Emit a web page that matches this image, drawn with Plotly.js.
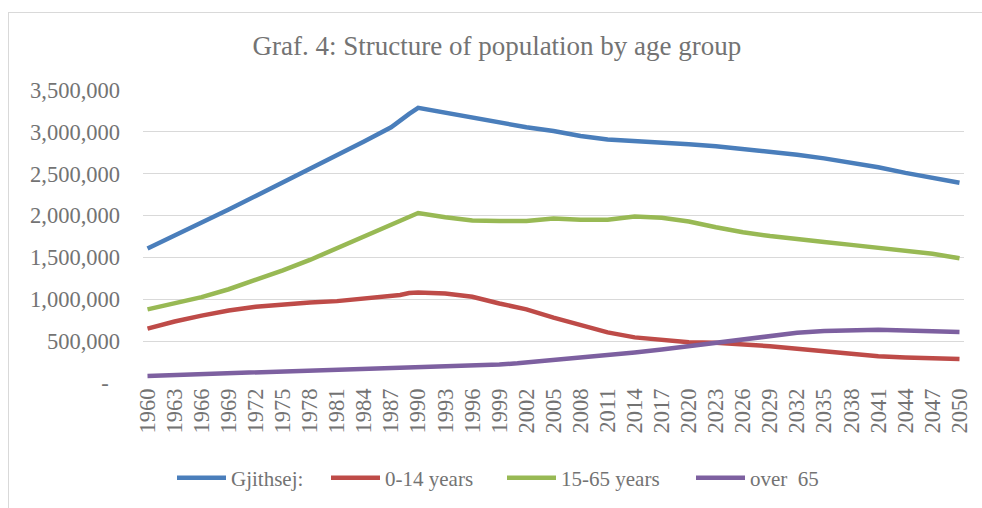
<!DOCTYPE html>
<html>
<head>
<meta charset="utf-8">
<script src="https://cdn.plot.ly/plotly-3.0.1.min.js"></script>
<style>
  html, body { margin: 0; padding: 0; background: #ffffff; }
  #wrap { position: relative; width: 982px; height: 508px; overflow: hidden; }
  #chart { position: absolute; left: 0; top: 0; width: 982px; height: 508px; }
  #frame { position: absolute; left: 8px; top: 12px; width: 1200px; height: 800px;
           border-left: 1px solid #d9d9d9; border-top: 1px solid #d9d9d9; pointer-events: none; }
</style>
</head>
<body>
<div id="wrap">
  <div id="chart"></div>
  <div id="frame"></div>
</div>
<script>
const years = [1960, 1963, 1966, 1969, 1972, 1975, 1978, 1981, 1984, 1987, 1988, 1989, 1990,
               1993, 1996, 1999, 2001, 2002, 2005, 2008, 2011, 2014, 2017, 2020, 2023,
               2026, 2029, 2032, 2035, 2038, 2041, 2044, 2047, 2050];

const total = [1607000, 1758000, 1912000, 2072000, 2235000, 2395000, 2555000, 2718000, 2885000, 3055000, 3140000, 3215000, 3286000,
               3225000, 3165000, 3105000, 3065000, 3055000, 3010000, 2950000, 2908000, 2893000, 2875000, 2852000, 2828000,
               2798000, 2765000, 2727000, 2683000, 2635000, 2577000, 2510000, 2448000, 2392000];

const age0_14 = [650000, 735000, 805000, 865000, 910000, 940000, 962000, 978000, 1005000, 1040000, 1052000, 1075000, 1080000,
                 1068000, 1030000, 950000, 910000, 880000, 780000, 690000, 605000, 545000, 510000, 488000, 480000,
                 465000, 440000, 410000, 378000, 345000, 320000, 305000, 295000, 288000];

const age15_65 = [880000, 950000, 1025000, 1120000, 1230000, 1345000, 1470000, 1610000, 1750000, 1880000, 1935000, 1985000, 2030000,
                  1980000, 1940000, 1935000, 1928000, 1935000, 1965000, 1950000, 1950000, 1988000, 1975000, 1930000, 1860000,
                  1800000, 1755000, 1715000, 1685000, 1650000, 1615000, 1580000, 1545000, 1490000];

const over65 = [85000, 95000, 102000, 110000, 120000, 130000, 140000, 152000, 162000, 172000, 175000, 178000, 182000,
                197000, 210000, 222000, 235000, 245000, 265000, 300000, 330000, 365000, 400000, 440000, 485000,
                530000, 570000, 600000, 622000, 632000, 635000, 628000, 615000, 610000];

const seriesNames = ["Gjithsej:", "0-14 years", "15-65 years", "over  65"];

const xTickVals = [1960, 1963, 1966, 1969, 1972, 1975, 1978, 1981, 1984, 1987, 1990, 1993, 1996, 1999,
                   2002, 2005, 2008, 2011, 2014, 2017, 2020, 2023, 2026, 2029, 2032, 2035, 2038,
                   2041, 2044, 2047, 2050];
const xTickText = ["1960", "1963", "1966", "1969", "1972", "1975", "1978", "1981", "1984", "1987", "1990", "1993", "1996", "1999",
                   "2002", "2005", "2008", "2011", "2014", "2017", "2020", "2023", "2026", "2029", "2032", "2035", "2038",
                   "2041", "2044", "2047", "2050"];

const yTickVals = [0, 500000, 1000000, 1500000, 2000000, 2500000, 3000000, 3500000];
const yTickText = ["-\u00a0\u00a0", "500,000", "1,000,000", "1,500,000", "2,000,000", "2,500,000", "3,000,000", "3,500,000"];

const colors = ["#4a7ebb", "#be4b48", "#98b954", "#7d60a0"];
const values = [total, age0_14, age15_65, over65];
// left edge (px) of each legend entry
const legendLeft = [172, 326, 502, 691];
const legendIds = ["legend", "legend2", "legend3", "legend4"];

const FONT = "'Liberation Serif', 'Times New Roman', serif";
const TXT = "#737373";

const traces = values.map((v, i) => ({
  type: "scatter",
  mode: "lines",
  name: seriesNames[i],
  x: years,
  y: v,
  legend: legendIds[i],
  line: { color: colors[i], width: 4.5, shape: "linear" },
  hoverinfo: "x+y+name"
}));

const layout = {
  width: 982,
  height: 508,
  margin: { l: 143, r: 18, t: 89.5, b: 125.3, pad: 0 },
  paper_bgcolor: "rgba(0,0,0,0)",
  plot_bgcolor: "rgba(0,0,0,0)",
  font: { family: FONT, size: 21, color: TXT },
  title: {
    text: "Graf. 4: Structure of population by age group",
    font: { family: FONT, size: 27, color: TXT },
    xref: "container", x: 0.506, xanchor: "center",
    yref: "container", y: 1 - 46 / 508, yanchor: "middle"
  },
  xaxis: {
    type: "linear",
    range: [1959.5, 2050.5],
    tickmode: "array",
    tickvals: xTickVals,
    ticktext: xTickText,
    tickangle: -90,
    showgrid: false,
    zeroline: false,
    showline: false,
    ticks: "",
    tickfont: { family: FONT, size: 22.5, color: TXT },
    fixedrange: true
  },
  yaxis: {
    range: [0, 3500000],
    tickmode: "array",
    tickvals: yTickVals,
    ticktext: yTickText,
    showgrid: true,
    gridcolor: "#d9d9d9",
    gridwidth: 1,
    zeroline: false,
    showline: false,
    ticks: "",
    ticklabelstandoff: 22,
    tickfont: { family: FONT, size: 22.5, color: TXT },
    fixedrange: true
  },
  showlegend: true
};

legendIds.forEach((id, i) => {
  layout[id] = {
    orientation: "h",
    xref: "container", x: legendLeft[i] / 982, xanchor: "left",
    yref: "container", y: 1 - 478 / 508, yanchor: "middle",
    font: { family: FONT, size: 21, color: TXT },
    itemwidth: 49,
    bgcolor: "rgba(0,0,0,0)"
  };
});

Plotly.newPlot("chart", traces, layout, { displayModeBar: false, staticPlot: true });
</script>
</body>
</html>
